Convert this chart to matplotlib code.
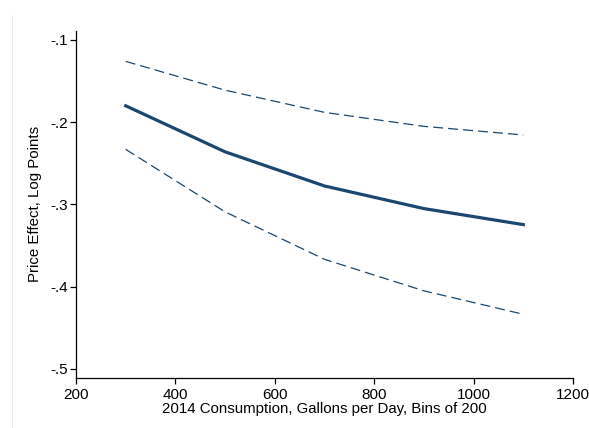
import matplotlib
matplotlib.use("Agg")
from matplotlib import pyplot as plt
from matplotlib.lines import Line2D

plt.rcParams['font.family'] = ['Liberation Sans', 'DejaVu Sans']

# consumption bins (gallons per day)
bins = [300, 500, 700, 900, 1100]
# point estimate and confidence bounds, log points
effect = [-0.180, -0.236, -0.2775, -0.305, -0.3245]
upper_ci = [-0.126, -0.161, -0.188, -0.205, -0.2155]
lower_ci = [-0.233, -0.309, -0.3667, -0.405, -0.4335]

x_ticks = [200, 400, 600, 800, 1000, 1200]
y_ticks = [-0.1, -0.2, -0.3, -0.4, -0.5]
y_tick_labels = ['-.1', '-.2', '-.3', '-.4', '-.5']

navy = '#1a476f'

W, H = 589, 428
fig = plt.figure(figsize=(W / 100, H / 100), dpi=100)
ax = fig.add_axes([76 / W, 1 - 378 / H, (573 - 76) / W, (378 - 30.7) / H])

ax.plot(bins, effect, color=navy, lw=2.3, solid_joinstyle='round')
ax.plot(bins, upper_ci, color=navy, lw=0.9, dashes=(8, 4))
ax.plot(bins, lower_ci, color=navy, lw=0.9, dashes=(8, 4))

ax.set_xlim(200, 1200)
ax.set_ylim(-0.511, -0.0887)
ax.set_xticks(x_ticks)
ax.set_yticks(y_ticks)
ax.set_yticklabels(y_tick_labels)

for side in ['top', 'right']:
    ax.spines[side].set_visible(False)
for side in ['left', 'bottom']:
    ax.spines[side].set_linewidth(0.9)
ax.tick_params(direction='out', length=4, width=0.9, labelsize=11, colors='black')
ax.tick_params(axis='x', pad=3)
ax.tick_params(axis='y', pad=2)

ax.set_xlabel('2014 Consumption, Gallons per Day, Bins of 200', fontsize=10.8, labelpad=0.5)
ax.set_ylabel('Price Effect, Log Points', fontsize=10.8, labelpad=6)

# faint outer border of the graph region
fig.add_artist(Line2D([12 / W, 12 / W], [0, 1 - 15 / H], transform=fig.transFigure,
                      color='#eeeeee', lw=0.7))

fig.savefig('out.png', dpi=100)
